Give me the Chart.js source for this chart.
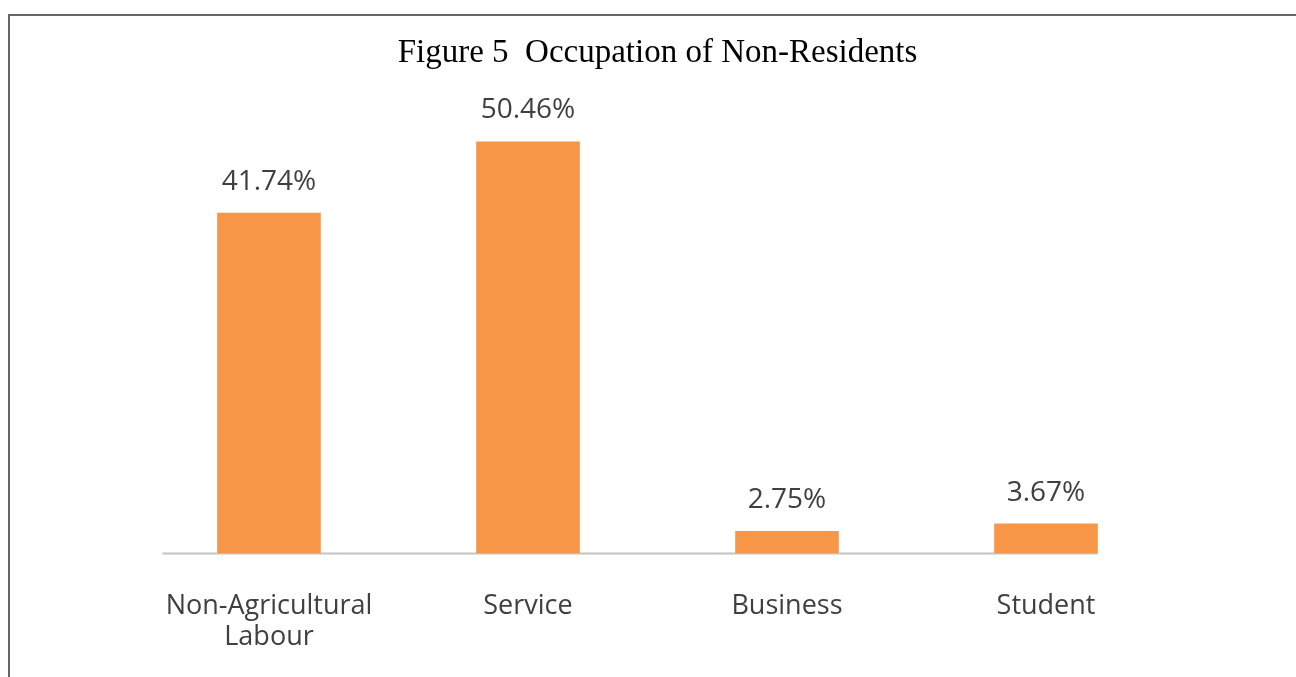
<!DOCTYPE html>
<html>
<head>
<meta charset="utf-8">
<title>Figure 5 Occupation of Non-Residents</title>
<script src="https://cdn.jsdelivr.net/npm/chart.js@4.4.1/dist/chart.umd.min.js"></script>
<style>
  html, body { margin: 0; padding: 0; background: #ffffff; overflow: hidden; }
  body { width: 1296px; height: 677px; position: relative; }
  .frame {
    position: absolute; left: 8px; top: 14px;
    width: 1400px; height: 800px;
    border: 2px solid #666666;
    box-sizing: border-box;
  }
  .wrap { position: absolute; left: 0; top: 0; width: 1296px; height: 677px; }
</style>
</head>
<body>
<div class="frame"></div>
<div class="wrap"><canvas id="chart" width="1296" height="677"></canvas></div>
<script>
// Occupation categories (multi-line labels are arrays)
const categories = [["Non-Agricultural", "Labour"], "Service", "Business", "Student"];
// Share of non-residents in each occupation, percent
const shares = [41.74, 50.46, 2.75, 3.67];
const chartTitle = "Figure 5  Occupation of Non-Residents";

const BAR_COLOR = "#F79646";
const TEXT_COLOR = "#404040";
const LABEL_FONT = "'Open Sans', 'Noto Sans', sans-serif";

// Baseline drawn under the bars, from just left of the first bar to the end of the last one
const baselinePlugin = {
  id: "baseline",
  beforeDatasetsDraw(chart) {
    const meta = chart.getDatasetMeta(0);
    const first = meta.data[0];
    const last = meta.data[meta.data.length - 1];
    const y = chart.scales.y.getPixelForValue(0);
    const ctx = chart.ctx;
    ctx.save();
    ctx.strokeStyle = "#c4c4c4";
    ctx.lineWidth = 2;
    ctx.beginPath();
    ctx.moveTo(first.x - first.width * 1.03, y);
    ctx.lineTo(last.x + last.width / 2, y);
    ctx.stroke();
    ctx.restore();
  }
};

// Percentage label above each bar
const valueLabelPlugin = {
  id: "valueLabels",
  afterDatasetsDraw(chart) {
    const ctx = chart.ctx;
    const meta = chart.getDatasetMeta(0);
    const values = chart.data.datasets[0].data;
    ctx.save();
    ctx.font = "28px " + LABEL_FONT;
    ctx.fillStyle = TEXT_COLOR;
    ctx.textAlign = "center";
    ctx.textBaseline = "middle";
    meta.data.forEach((bar, i) => {
      ctx.fillText(values[i].toFixed(2) + "%", bar.x, bar.y - 31);
    });
    ctx.restore();
  }
};

new Chart(document.getElementById("chart"), {
  type: "bar",
  data: {
    labels: categories,
    datasets: [{
      data: shares,
      backgroundColor: BAR_COLOR,
      borderWidth: 0,
      categoryPercentage: 1.0,
      barPercentage: 0.4
    }]
  },
  options: {
    responsive: false,
    animation: false,
    devicePixelRatio: 1,
    layout: { padding: { left: 139.5, right: 120.5, top: 0, bottom: 0 } },
    plugins: {
      legend: { display: false },
      tooltip: { enabled: false },
      title: {
        display: true,
        text: chartTitle,
        fullSize: false,
        color: "#000000",
        font: { family: "'Liberation Serif', 'DejaVu Serif', serif", size: 33, weight: "normal", lineHeight: 1.2 },
        padding: { top: 34, bottom: 6.3 }
      }
    },
    scales: {
      x: {
        grid: { display: false, drawTicks: false },
        border: { display: false },
        ticks: {
          color: TEXT_COLOR,
          font: { family: LABEL_FONT, size: 27, lineHeight: 1.15 },
          padding: 37,
          maxRotation: 0,
          autoSkip: false
        },
        afterFit(scale) { scale.height = 123.5; }
      },
      y: {
        display: false,
        min: 0,
        max: 58
      }
    }
  },
  plugins: [baselinePlugin, valueLabelPlugin]
});
</script>
</body>
</html>
